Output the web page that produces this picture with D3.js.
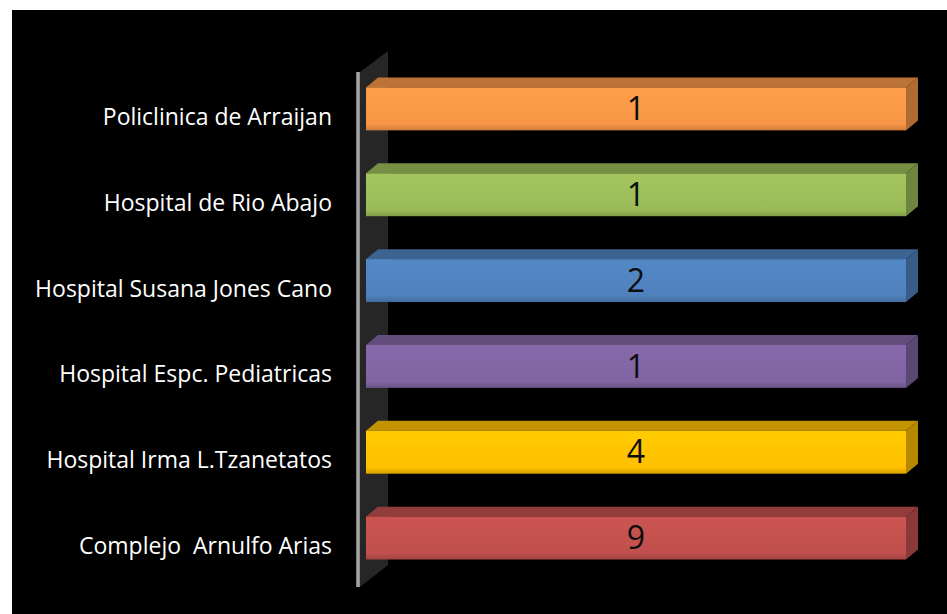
<!DOCTYPE html>
<html>
<head>
<meta charset="utf-8">
<script src="https://cdn.jsdelivr.net/npm/d3@7"></script>
<style>
  html, body { margin: 0; padding: 0; background: #fff; }
  svg { display: block; }
  .cat-label { font-family: "Open Sans", sans-serif; font-size: 23px; fill: #fff; white-space: pre; }
  .value-label { font-family: "Open Sans", sans-serif; font-size: 32px; fill: #0d0d0d; }
</style>
</head>
<body>
<div class="bar-chart"></div>
<script>
const categories = [
  "Policlinica de Arraijan",
  "Hospital de Rio Abajo",
  "Hospital Susana Jones Cano",
  "Hospital Espc. Pediatricas",
  "Hospital Irma L.Tzanetatos",
  "Complejo  Arnulfo Arias"
];
const values = [1, 1, 2, 1, 4, 9];
const colors = ["#F79646", "#9BBB59", "#4F81BD", "#8064A2", "#FFC000", "#C0504D"];

drawChart();

function drawChart() {
  const width = 947,
    height = 614,
    depthX = 12,
    depthY = 10,
    el = d3.select(".bar-chart");

  // one series per category, drawn as 100% stacked
  const data = categories.map((name, i) => ({
    name: name,
    value: values[i],
    share: values[i] / d3.sum([values[i]]),
    color: colors[i]
  }));

  const svg = el
    .append("svg")
    .attr("width", width)
    .attr("height", height);

  // black chart area
  svg
    .append("rect")
    .attr("x", 12)
    .attr("y", 10)
    .attr("width", width - 12)
    .attr("height", height - 10)
    .attr("fill", "#000");

  const x = d3.scaleLinear().domain([0, 1]).range([366, 906]);

  const y = d3
    .scaleBand()
    .domain(categories)
    .range([66, 581])
    .paddingInner(0.5)
    .paddingOuter(0.25);

  const defs = svg.append("defs");

  const wallGrad = defs
    .append("linearGradient")
    .attr("id", "wall-edge")
    .attr("x1", 0).attr("x2", 1).attr("y1", 0).attr("y2", 0);
  wallGrad.append("stop").attr("offset", "0%").attr("stop-color", "#6a6a6a");
  wallGrad.append("stop").attr("offset", "50%").attr("stop-color", "#b5b5b5");
  wallGrad.append("stop").attr("offset", "100%").attr("stop-color", "#7a7a7a");

  // side wall
  svg
    .append("path")
    .attr("d", "M360,72 L388,51 L388,565 L360,587 Z")
    .attr("fill", "#262626");

  svg
    .append("rect")
    .attr("x", 356)
    .attr("y", 72)
    .attr("width", 4)
    .attr("height", 515)
    .attr("fill", "url(#wall-edge)");

  data.forEach((d, i) => {
    const g = defs
      .append("linearGradient")
      .attr("id", "front-" + i)
      .attr("x1", 0).attr("x2", 0).attr("y1", 0).attr("y2", 1);
    g.append("stop").attr("offset", "0%").attr("stop-color", d3.color(d.color).brighter(0.15));
    g.append("stop").attr("offset", "85%").attr("stop-color", d.color);
    g.append("stop").attr("offset", "100%").attr("stop-color", d3.color(d.color).darker(0.5));
  });

  const bars = svg
    .selectAll(".bar")
    .data(data)
    .enter()
    .append("g")
    .attr("class", "bar");

  bars.each(function(d, i) {
    const group = d3.select(this);
    const x0 = x(0),
      x1 = x(d.share),
      y0 = y(d.name),
      y1 = y(d.name) + y.bandwidth();

    // top face
    group
      .append("path")
      .attr("d", `M${x0},${y0} L${x0 + depthX},${y0 - depthY} L${x1 + depthX},${y0 - depthY} L${x1},${y0} Z`)
      .attr("fill", d3.color(d.color).darker(0.75));

    // right face
    group
      .append("path")
      .attr("d", `M${x1},${y0} L${x1 + depthX},${y0 - depthY} L${x1 + depthX},${y1 - depthY} L${x1},${y1} Z`)
      .attr("fill", d3.color(d.color).darker(0.95));

    // front face
    group
      .append("rect")
      .attr("x", x0)
      .attr("y", y0)
      .attr("width", x1 - x0)
      .attr("height", y.bandwidth())
      .attr("fill", `url(#front-${i})`);

    group
      .append("text")
      .attr("class", "value-label")
      .attr("x", (x0 + x1) / 2)
      .attr("y", y0 + y.bandwidth() / 2)
      .attr("dy", "0.35em")
      .attr("text-anchor", "middle")
      .text(d.value);
  });

  // category labels
  svg
    .selectAll(".cat-label")
    .data(data)
    .enter()
    .append("text")
    .attr("class", "cat-label")
    .attr("x", 332)
    .attr("y", d => y(d.name) + y.bandwidth() / 2 + 8)
    .attr("dy", "0.35em")
    .attr("text-anchor", "end")
    .text(d => d.name);
}
</script>
</body>
</html>
